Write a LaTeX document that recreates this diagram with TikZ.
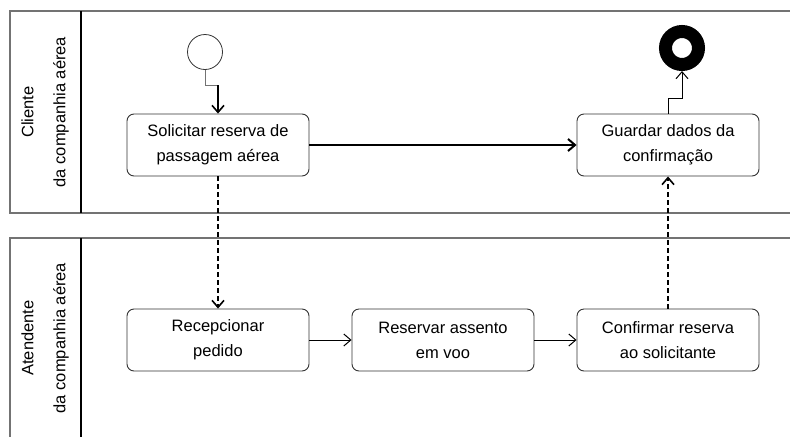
\documentclass[tikz,border=0pt]{standalone}
\usepackage{fontspec}
\setmainfont{Liberation Sans}
\usetikzlibrary{arrows.meta}
\begin{document}
\begin{tikzpicture}[x=1pt,y=-1pt,
  task/.style={draw=black!80, line width=0.9pt, rounded corners=7pt, minimum width=182pt, minimum height=62pt, align=center, font=\fontsize{16.5}{25}\selectfont, inner sep=0pt},
  pool/.style={draw=black!55, line width=1.2pt},
  divider/.style={draw=black, line width=1.2pt},
  tip/.style={-{Straight Barb[length=7pt,width=12pt]}},
  flow/.style={tip, line width=1.6pt},
  thinflow/.style={tip, line width=1pt},
  msg/.style={tip, line width=1.6pt, dash pattern=on 5pt off 3pt},
  lanelabel/.style={rotate=90, align=center, font=\fontsize{16.5}{32}\selectfont, inner sep=0pt}
]
\useasboundingbox (0,0) rectangle (790,437);
\fill[white] (0,0) rectangle (790,437);
% pools
\draw[pool] (790,11) -- (10,11) -- (10,213) -- (790,213);
\draw[divider] (81,11) -- (81,213);
\draw[pool] (790,238) -- (10,238) -- (10,437);
\draw[divider] (81,238) -- (81,437);
\node[lanelabel] (l1) at (45,112) {Cliente\\da companhia aérea};
\node[lanelabel] (l2) at (45,338) {Atendente\\da companhia aérea};
% events
\node[circle, draw=black!80, line width=0.8pt, minimum size=35pt, inner sep=0pt] (start) at (205,52) {};
\node[circle, draw=black, line width=13pt, minimum size=33pt, inner sep=0pt] (end) at (682,48) {};
% tasks
\node[task] (t1) at (218,145) {Solicitar reserva de\\passagem aérea};
\node[task] (t2) at (668,145) {Guardar dados da\\confirmação};
\node[task] (t3) at (218,340) {Recepcionar\\pedido};
\node[task] (t4) at (443,340) {Reservar assento\\em voo};
\node[task] (t5) at (668,340) {Confirmar reserva\\ao solicitante};
% connectors
\coordinate (c1) at (205,85);
\coordinate (c2) at (218,85);
\draw[black!55, line width=1pt] (start.south) -- (c1) -- (c2);
\draw[flow] (c2) -- (t1.north);
\coordinate (e1) at (668,98);
\coordinate (e2) at (682,98);
\draw[thinflow] (t2.north) -- (e1) -- (e2) -- (end.south);
\draw[flow, line width=2pt] (t1) -- (t2);
\draw[msg] (t1.south) -- (t3.north);
\draw[msg] (t5.north) -- (t2.south);
\draw[thinflow] (t3) -- (t4);
\draw[thinflow] (t4) -- (t5);
\end{tikzpicture}
\end{document}
